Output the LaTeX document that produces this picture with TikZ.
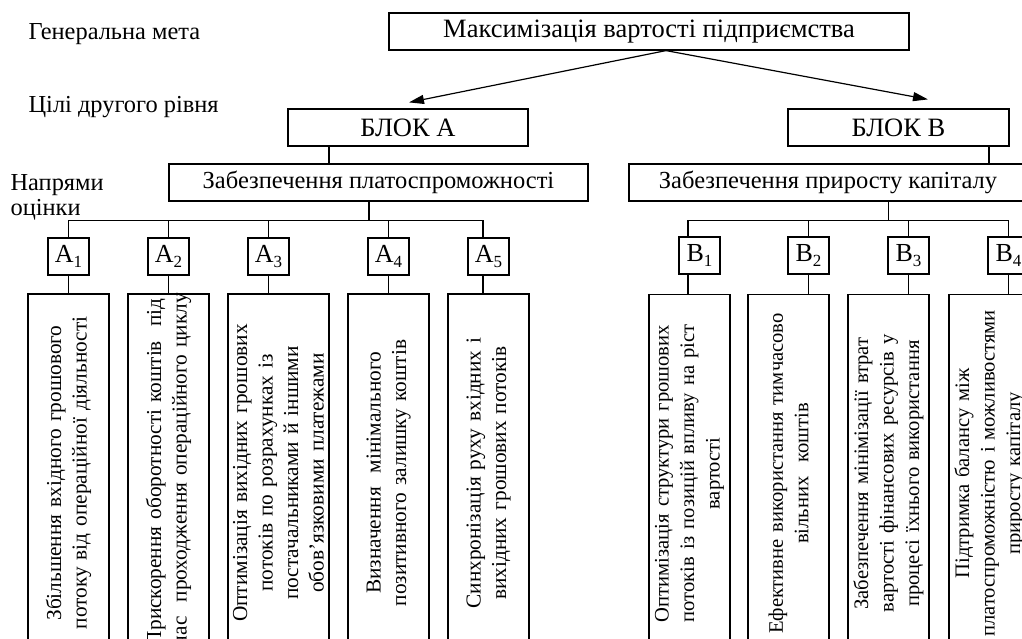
\documentclass[tikz,border=0pt]{standalone}
\usepackage{fontspec}
\setmainfont{Liberation Serif}
\usetikzlibrary{arrows.meta,calc}
\newcommand\subidx[1]{\raisebox{-0.2em}{\fontsize{17}{17}\selectfont #1}}
\newcommand\fitline[2]{\scalebox{#1}[1]{\makebox[\dimexpr 346pt/\numexpr 1\relax\relax][s]{#2}}}
\begin{document}
\begin{tikzpicture}[x=1pt,y=-1pt, line width=1.2pt,
  box/.style={draw, inner sep=0pt, align=center, font=\fontsize{24.5}{27}\selectfont},
  bigbox/.style={box, font=\fontsize{26.5}{29}\selectfont},
  lbl/.style={anchor=base west, inner sep=0pt, font=\fontsize{24.4}{25}\selectfont, align=left},
  sbox/.style={draw, inner sep=0pt, minimum width=41pt, minimum height=37pt, font=\fontsize{26}{26}\selectfont},
  tall/.style={draw, rotate=90, inner xsep=3pt, inner ysep=0pt, text width=352pt, align=center, font=\fontsize{21.3}{25.5}\selectfont},
  tallb/.style={tall, font=\fontsize{20.6}{25.5}\selectfont},
  arr/.style={-{Triangle[length=15pt,width=9pt]}}]
\clip (0,0) rectangle (1022,639);
\fill[white] (0,0) rectangle (1022,639);

% left labels
\node[lbl] (l1) at (28,40) {Генеральна мета};
\node[lbl] (l2) at (28,113) {Цілі другого рівня};
\node[lbl] (l3) at (10,190) {Напрями};
\node[lbl] (l4) at (10,215) {оцінки};

% top
\node[bigbox, minimum width=520pt, minimum height=37pt] (top) at (649,31.5) {Максимізація вартості підприємства};
\node[bigbox, minimum width=240pt, minimum height=37pt] (ba) at (408,127.5) {БЛОК А};
\node[bigbox, minimum width=221pt, minimum height=37pt] (bb) at (898.5,127.5) {БЛОК В};
\coordinate (src) at ($(top.south)+(17,0)$);
\coordinate (ea) at ($(ba.north)+(1,-6)$);
\coordinate (eb) at ($(bb.north)+(29.5,-9)$);
\draw[arr] (src) -- (ea);
\draw[arr] (src) -- (eb);

\node[box, minimum width=419pt, minimum height=37pt] (pa) at (378.5,182.5) {Забезпечення платоспроможності};
\node[box, minimum width=398pt, minimum height=37pt] (pb) at (828,182.5) {Забезпечення приросту капіталу};
\draw ([xshift=-79pt]ba.south) -- ([xshift=-79pt]ba.south |- pa.north);
\draw ([xshift=90.5pt]bb.south) -- ([xshift=90.5pt]bb.south |- pb.north);

% A small boxes
\node[sbox] (a1) at (68.5,256.5) {A\subidx{1}};
\node[sbox] (a2) at (168.5,256.5) {A\subidx{2}};
\node[sbox] (a3) at (268.5,256.5) {A\subidx{3}};
\node[sbox] (a4) at (388.5,256.5) {A\subidx{4}};
\node[sbox] (a5) at (488.5,256.5) {A\subidx{5}};
% B small boxes
\node[sbox] (b1) at (699.5,255.5) {B\subidx{1}};
\node[sbox] (b2) at (808.5,255.5) {B\subidx{2}};
\node[sbox] (b3) at (908.5,255.5) {B\subidx{3}};
\node[sbox] (b4) at (1008.5,255.5) {B\subidx{4}};

% tall boxes A
\node[tall, minimum height=81pt] (ta1) at (68.5,473) {Збільшення вхідного грошового\\ потоку від операційної діяльності};
\node[tall, minimum height=81pt] (ta2) at (168.5,473) {\makebox[346pt][s]{Прискорення оборотності коштів \ під}\\ \makebox[346pt][s]{час \ проходження операційного циклу}};
\node[tall, minimum height=101pt] (ta3) at (278.5,473) {Оптимізація вихідних грошових\\ потоків по розрахунках із\\ постачальниками й іншими\\ обов'язковими платежами};
\node[tall, minimum height=81pt] (ta4) at (388.5,473) {Визначення \ мінімального\\ позитивного залишку коштів};
\node[tall, minimum height=81pt] (ta5) at (488.5,473) {Синхронізація руху вхідних і\\ вихідних грошових потоків};
% tall boxes B
\node[tallb, minimum height=81pt] (tb1) at (689.5,473.5) {Оптимізація структури грошових\\ потоків із позицій впливу на ріст\\ вартості};
\node[tallb, minimum height=81pt] (tb2) at (788.5,473.5) {Ефективне використання тимчасово\\ вільних \ коштів};
\node[tallb, minimum height=81pt] (tb3) at (888.5,473.5) {Забезпечення мінімізації втрат\\ вартості фінансових ресурсів у\\ процесі їхнього використання};
\node[tallb, minimum height=81pt] (tb4) at (989.5,473.5) {Підтримка балансу між\\ платоспроможністю і можливостями\\ приросту капіталу};

% A tree
\foreach \n/\dx in {a1/0,a2/0,a3/0,a4/0,a5/-5.5}{
  \draw ([xshift=-9.5pt]pa.south) -- ++(0,18.5) -| ([xshift=\dx pt]\n.north);
}
\draw (a1.south) -- (a1.south |- ta1.east);
\draw (a2.south) -- (a2.south |- ta2.east);
\draw (a3.south) -- (a3.south |- ta3.east);
\draw (a4.south) -- (a4.south |- ta4.east);
\draw ([xshift=-5.5pt]a5.south) -- ([xshift=-5.5pt]a5.south |- ta5.east);
% B tree
\foreach \n/\dx in {b1/-11.5,b2/0,b3/0,b4/0}{
  \draw ([xshift=60.5pt]pb.south) -- ++(0,18.5) -| ([xshift=\dx pt]\n.north);
}
\draw ([xshift=-11.5pt]b1.south) -- ([xshift=-11.5pt]b1.south |- tb1.east);
\draw (b2.south) -- (b2.south |- tb2.east);
\draw (b3.south) -- (b3.south |- tb3.east);
\draw (b4.south) -- (b4.south |- tb4.east);
\end{tikzpicture}
\end{document}
